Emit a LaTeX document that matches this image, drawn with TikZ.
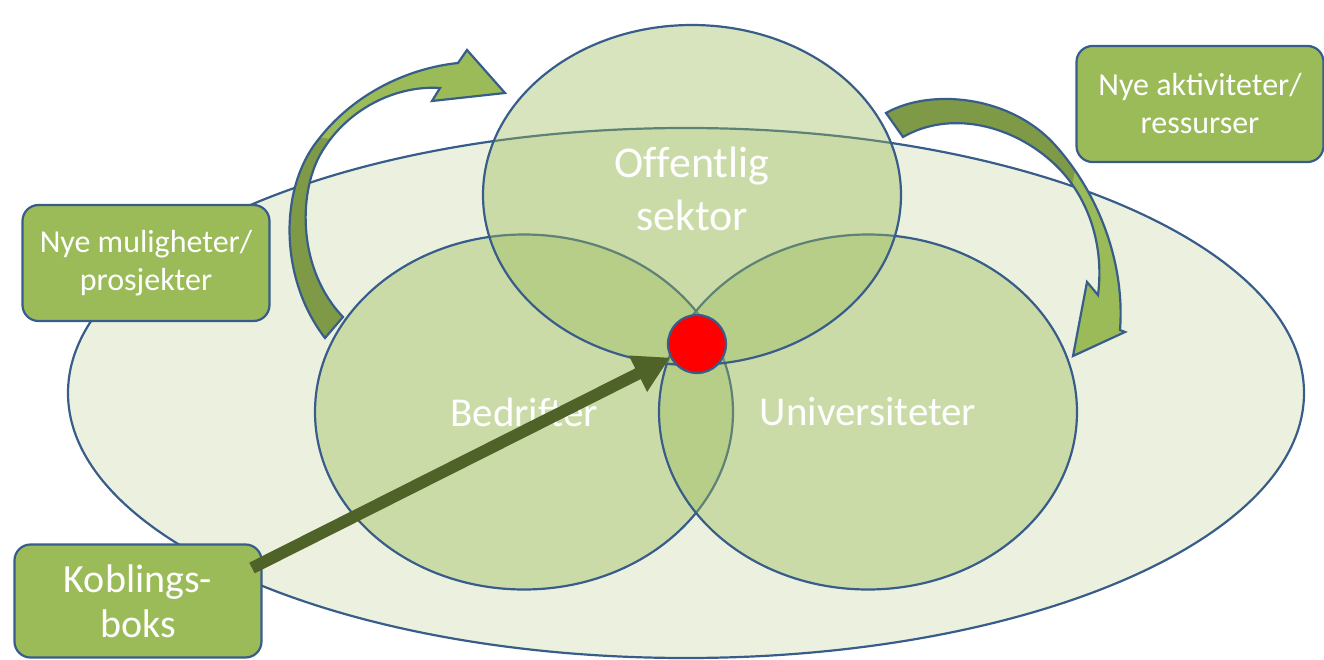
\documentclass[tikz,border=0pt]{standalone}
\usepackage{fontspec}
\setmainfont{Carlito}
\usepackage{tikz}
\usetikzlibrary{shapes.geometric,arrows.meta,positioning}
\definecolor{rimblue}{RGB}{56,93,138}
\definecolor{leafgreen}{RGB}{155,187,89}
\definecolor{paleleaf}{RGB}{235,241,222}
\definecolor{mossgreen}{RGB}{126,154,71}
\definecolor{olivedark}{RGB}{79,98,40}
\tikzstyle{sector} = [ellipse, draw=rimblue, line width=2.2pt, fill=leafgreen, fill opacity=0.4, text opacity=1, text=white, inner sep=0pt, minimum width=418pt, minimum height=355pt, align=center, font=\fontsize{41}{53}\selectfont]
\tikzstyle{tag} = [rectangle, rounded corners=16pt, draw=rimblue, line width=2.2pt, fill=leafgreen, text=white, minimum width=247pt, minimum height=116pt, align=center, font=\fontsize{32}{38}\selectfont]
\tikzstyle{rim} = [draw=rimblue, line width=2.2pt]
\tikzstyle{link} = [olivedark, line width=12pt, -{Triangle[length=36pt,width=38pt]}]
\newcommand{\leftbend}{(325,338) .. controls (280,280) and (278,190) .. (318,140) .. controls (355,92) and (410,68) .. (458,63) -- (467,50) -- (505,93) -- (432,101) -- (440,88) .. controls (395,85) and (345,110) .. (320,155) .. controls (298,195) and (298,270) .. (343,317) -- cycle}
\newcommand{\rightbend}{(886,113) .. controls (930,88) and (1010,95) .. (1055,145) .. controls (1100,195) and (1125,265) .. (1120,330) -- (1125,332) -- (1073,356) -- (1087,282) -- (1098,295) .. controls (1105,240) and (1085,190) .. (1050,160) .. controls (1010,125) and (950,110) .. (903,137) -- cycle}
\begin{document}
\begin{tikzpicture}[x=1pt,y=-1pt]
\useasboundingbox (0,0) rectangle (1324,660);
% background field
\node[ellipse, rim, fill=paleleaf, inner sep=0pt, minimum width=1236pt, minimum height=530pt] (field) at (686,393) {};
% the three sectors
\node[sector] (firms) at (524,412) {Bedrifter};
\node[sector] (univ) at (868,412) {Universiteter};
\node[sector, minimum height=340pt, text depth=12pt, font=\fontsize{44}{53}\selectfont] (public) at (692,195) {Of\kern0ptfentlig\\sektor};
% bent arrows
\fill[leafgreen] \leftbend;
\begin{scope}
  \clip \leftbend;
  \fill[mossgreen] (250,132) -- (345,140) -- (380,400) -- (250,400) -- cycle;
\end{scope}
\draw[rim] \leftbend;
\fill[leafgreen] \rightbend;
\begin{scope}
  \clip \rightbend;
  \fill[mossgreen] (850,50) -- (1100,50) -- (1072,185) -- (850,185) -- cycle;
\end{scope}
\draw[rim] \rightbend;
% boxes
\node[tag] (chances) at (146,263) {Nye muligheter/\\prosjekter};
\node[tag] (means) at (1200,104) {Nye aktiviteter/\\ressurser};
\node[tag, minimum height=113pt, font=\fontsize{40}{45}\selectfont] (kob) at (138,601) {Koblings-\\boks};
% hub and link
\node[circle, rim, fill=red, inner sep=0pt, minimum size=58pt] (hub) at (697,344) {};
\coordinate (kobout) at (252,568);
\draw[link] (kobout) -- (hub);
\end{tikzpicture}
\end{document}
